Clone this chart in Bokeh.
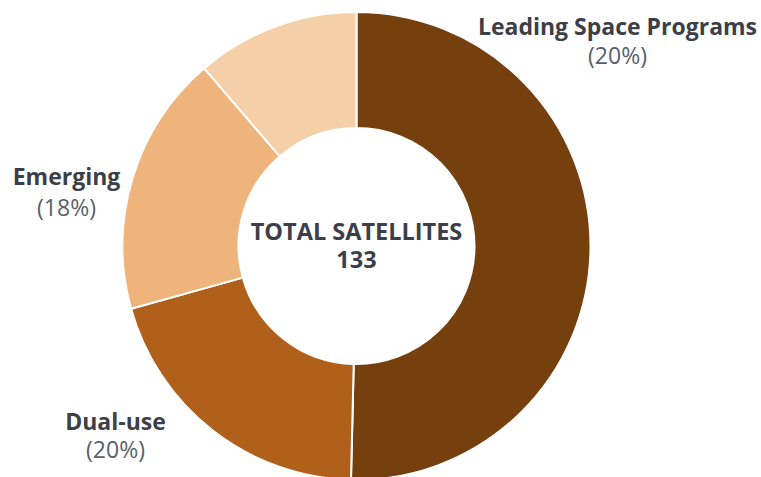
import math
from bokeh.plotting import figure
from bokeh.models import Range1d, ColumnDataSource
from bokeh.core.properties import value
from bokeh.embed import file_html
from bokeh.resources import INLINE

# Data
categories = ["Leading Space Programs", "Dual-use", "Emerging", "Other"]
counts = [67, 27, 24, 15]
colors = ["#76400E", "#B0601A", "#EEB47B", "#F5CFA7"]
label_names = ["Leading Space Programs", "Dual-use", "Emerging"]
label_pcts = ["(20%)", "(20%)", "(18%)"]
center_title = "TOTAL SATELLITES"
center_value = "133"

W, H = 761, 477
p = figure(width=W, height=H, output_backend="svg", toolbar_location=None,
           x_range=Range1d(0, W), y_range=Range1d(0, H),
           min_border=0, outline_line_color=None, background_fill_color="white",
           border_fill_color="white")
p.axis.visible = False
p.grid.visible = False

# Donut geometry (page pixel coordinates, y flipped)
cx, cy = 356, 477 - 245.5
r_in, r_out = 118, 234

total = sum(counts)
starts, ends = [], []
cum = 0
for c in counts:
    starts.append(math.pi / 2 - 2 * math.pi * cum / total)
    cum += c
    ends.append(math.pi / 2 - 2 * math.pi * cum / total)

src = ColumnDataSource(dict(cat=categories, start=starts, end=ends, color=colors,
                            x=[cx] * 4, y=[cy] * 4))
p.annular_wedge(x="x", y="y", inner_radius=r_in, outer_radius=r_out,
                start_angle="start", end_angle="end", direction="clock",
                fill_color="color", line_color="white", line_width=2, source=src)

# Outer labels
dy = 12
lab_x = [617, 115, 66]
name_y = [477 - 37 + dy, 477 - 432 + dy, 477 - 187 + dy]
pct_y = [477 - 66 + dy, 477 - 460 + dy, 477 - 218 + dy]
p.text(x=lab_x, y=name_y, text=label_names, text_align="center",
       text_baseline="alphabetic", text_font=value("Open Sans"),
       text_font_style="bold", text_font_size="23px", text_color="#3C3F48")
p.text(x=lab_x, y=pct_y, text=label_pcts, text_align="center",
       text_baseline="alphabetic", text_font=value("Open Sans"),
       text_font_size="23px", text_color="#5A5F69")

# Center text
p.text(x=[cx, cx], y=[477 - 242 + dy, 477 - 271 + dy], text=[center_title, center_value],
       text_align="center", text_baseline="alphabetic",
       text_font=value("Open Sans"), text_font_style="bold",
       text_font_size="23.5px", text_color="#3C3F48")

open("out.html", "w").write(file_html(p, INLINE))
